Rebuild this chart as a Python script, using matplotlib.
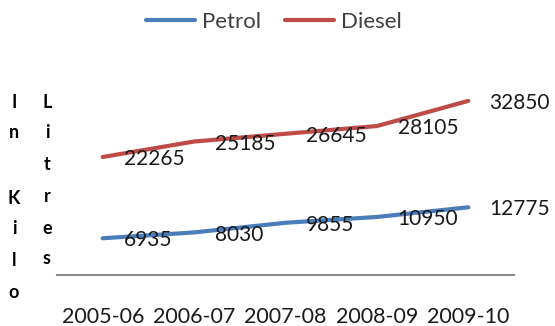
import matplotlib
matplotlib.use("Agg")
import matplotlib.pyplot as plt

plt.rcParams["font.family"] = ["Lato", "DejaVu Sans"]

years = ["2005-06", "2006-07", "2007-08", "2008-09", "2009-10"]
petrol = [6935, 8030, 9855, 10950, 12775]
diesel = [22265, 25185, 26645, 28105, 32850]

BLUE = "#4A7EBB"
RED = "#BE4B48"
TEXT = "#1a1a1a"

W, H = 555, 326
fig = plt.figure(figsize=(W / 100, H / 100), dpi=100)

# plot area in pixel terms: x from 57 to 514, baseline at 275
left, right, bottom, top = 57, 514, 275, 63
ax = fig.add_axes([left / W, 1 - bottom / H, (right - left) / W, (bottom - top) / H])

x = list(range(len(years)))
ax.plot(x, petrol, color=BLUE, lw=3, solid_capstyle="round", label="Petrol")
ax.plot(x, diesel, color=RED, lw=3, solid_capstyle="round", label="Diesel")

for series in (petrol, diesel):
    for xi, v in zip(x, series):
        ax.annotate(f"{v}", xy=(xi, v), xytext=(15, -1.5), textcoords="offset points",
                    ha="left", va="center", fontsize=15, color=TEXT)

ax.set_xlim(-0.5, len(years) - 0.5)
ax.set_ylim(0, 40000)
ax.set_xticks(x)
ax.set_xticklabels(years, fontsize=15.5, color=TEXT)
ax.tick_params(axis="x", length=0, pad=23)
ax.set_yticks([])
for side in ("top", "right", "left"):
    ax.spines[side].set_visible(False)
ax.spines["bottom"].set_color("#8c8c8c")
ax.spines["bottom"].set_linewidth(1.5)

fig.legend(loc="center", bbox_to_anchor=(274 / W, 1 - 22 / H), ncol=2, frameon=False,
           fontsize=16, handlelength=2.2, handletextpad=0.3, columnspacing=1.1,
           labelcolor="#404040")

# stacked vertical axis title, two columns
col1 = ["I", "n", "", "K", "i", "l", "o"]
col1_y = [103, 133, 166, 198, 228, 261, 293]
col2 = ["L", "i", "t", "r", "e", "s"]
col2_y = [103, 133, 165, 197, 228, 258]
for ch, yy in zip(col1, col1_y):
    fig.text(14 / W, 1 - yy / H, ch, ha="center", va="center", fontsize=13,
             fontweight="bold", color="black")
for ch, yy in zip(col2, col2_y):
    fig.text(47 / W, 1 - yy / H, ch, ha="center", va="center", fontsize=13,
             fontweight="bold", color="black")

fig.savefig("out.png", dpi=100)
